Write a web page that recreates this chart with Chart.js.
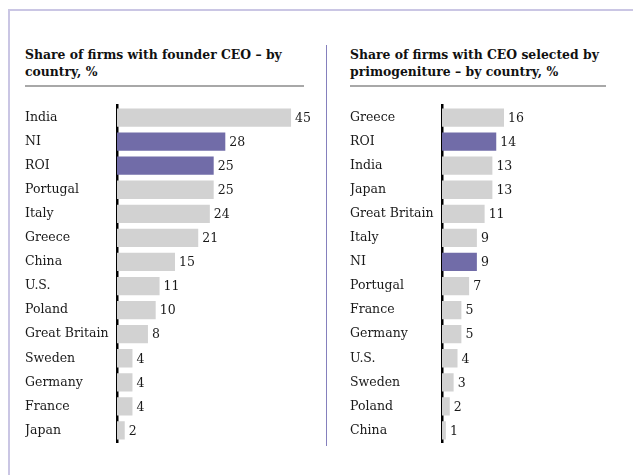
<!DOCTYPE html>
<html lang="en">
<head>
    <meta charset="UTF-8">
    <title>CEO selection by country</title>
    <script src="https://cdn.jsdelivr.net/npm/chart.js"></script>
    <style>
        html, body { margin: 0; background: #fff; overflow: hidden; }
        body { width: 633px; height: 475px; position: relative; font-family: "DejaVu Serif", serif; }
        /* frame: only top and left edges are visible */
        .frame-top { position: absolute; left: 8px; top: 9px; width: 625px; height: 2px; background: #cac6e4; }
        .frame-left { position: absolute; left: 8px; top: 9px; width: 2px; height: 466px; background: #cac6e4; }
        .divider { position: absolute; left: 326px; top: 45px; width: 1px; height: 401px; background: #8580bd; }
        .title { position: absolute; top: 46px; font-weight: bold; font-size: 12.4px; line-height: 17px; color: #111; white-space: nowrap; }
        .rule { position: absolute; top: 85px; height: 2px; background: #a8a8a8; }
        .panel { position: absolute; top: 95px; height: 358px; }
    </style>
</head>
<body>
    <div class="frame-top"></div>
    <div class="frame-left"></div>
    <div class="divider"></div>

    <div class="title" style="left:25px">Share of firms with founder CEO – by<br>country, %</div>
    <div class="rule" style="left:25px; width:279px"></div>
    <div class="panel" style="left:25px; width:297px"><canvas id="founderChart"></canvas></div>

    <div class="title" style="left:350px">Share of firms with CEO selected by<br>primogeniture – by country, %</div>
    <div class="rule" style="left:350px; width:256px"></div>
    <div class="panel" style="left:350px; width:278px"><canvas id="primoChart"></canvas></div>

    <script>
        // founder CEO share, %
        const founderCountries = ["India", "NI", "ROI", "Portugal", "Italy", "Greece", "China", "U.S.", "Poland", "Great Britain", "Sweden", "Germany", "France", "Japan"];
        const founderValues = [45, 28, 25, 25, 24, 21, 15, 11, 10, 8, 4, 4, 4, 2];

        // CEO chosen by primogeniture, %
        const primoCountries = ["Greece", "ROI", "India", "Japan", "Great Britain", "Italy", "NI", "Portugal", "France", "Germany", "U.S.", "Sweden", "Poland", "China"];
        const primoValues = [16, 14, 13, 13, 11, 9, 9, 7, 5, 5, 4, 3, 2, 1];

        // Irish regions get the highlight colour
        const highlighted = ["NI", "ROI"];
        const GREY = "#d2d2d2";
        const PURPLE = "#716ca8";

        // writes the value just past the end of each bar
        const valueLabels = {
            id: "valueLabels",
            afterDatasetsDraw(chart) {
                const ctx = chart.ctx;
                const meta = chart.getDatasetMeta(0);
                ctx.save();
                ctx.font = "12.5px 'DejaVu Serif'";
                ctx.fillStyle = "#1a1a1a";
                ctx.textAlign = "left";
                ctx.textBaseline = "middle";
                meta.data.forEach((bar, i) => {
                    ctx.fillText(chart.data.datasets[0].data[i], bar.x + 4, bar.y + 1);
                });
                ctx.restore();
            }
        };

        function makeChart(id, labels, values, xMax) {
            new Chart(document.getElementById(id), {
                type: "bar",
                data: {
                    labels: labels,
                    datasets: [{
                        data: values,
                        backgroundColor: labels.map(l => highlighted.includes(l) ? PURPLE : GREY),
                        barPercentage: 0.76,
                        categoryPercentage: 1
                    }]
                },
                options: {
                    indexAxis: "y",
                    responsive: true,
                    maintainAspectRatio: false,
                    animation: false,
                    layout: { padding: 0 },
                    plugins: { legend: { display: false }, tooltip: { enabled: false } },
                    scales: {
                        x: { display: false, min: 0, max: xMax },
                        y: {
                            afterFit(scale) { scale.width = 92; },
                            grid: { display: false },
                            border: { display: true, color: "#000", width: 2.5 },
                            ticks: {
                                crossAlign: "far",
                                color: "#1a1a1a",
                                font: { family: "DejaVu Serif", size: 12.5 }
                            }
                        }
                    }
                },
                plugins: [valueLabels]
            });
        }

        makeChart("founderChart", founderCountries, founderValues, 53);
        makeChart("primoChart", primoCountries, primoValues, 48);
    </script>
</body>
</html>
